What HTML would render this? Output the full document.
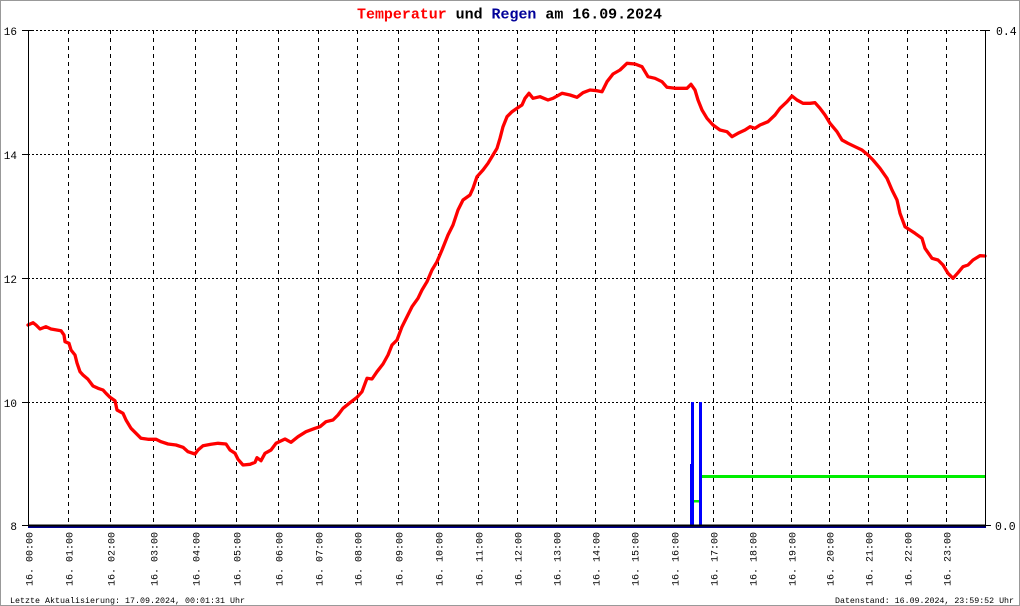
<!DOCTYPE html>
<html>
<head>
<meta charset="utf-8">
<style>
html,body{margin:0;padding:0;background:#fff;}
svg{display:block;}
</style>
</head>
<body>
<svg width="1020" height="606" viewBox="0 0 1020 606" xmlns="http://www.w3.org/2000/svg">
<rect x="0" y="0" width="1020" height="606" fill="#fff"/>
<rect x="0.5" y="0.5" width="1019" height="605" fill="none" stroke="#999" stroke-width="1"/>

<!-- Title -->
<text x="357" y="18.5" font-family="Liberation Mono, monospace" font-size="15" font-weight="bold" textLength="305" lengthAdjust="spacingAndGlyphs"><tspan fill="#ff0000">Temperatur</tspan><tspan fill="#000"> und </tspan><tspan fill="#000099">Regen</tspan><tspan fill="#000"> am 16.09.2024</tspan></text>

<!-- horizontal dotted grid -->
<g stroke="#000" stroke-width="1" stroke-dasharray="2 2">
<line x1="28" y1="30.5" x2="985" y2="30.5"/>
<line x1="28" y1="154.5" x2="985" y2="154.5"/>
<line x1="28" y1="278.5" x2="985" y2="278.5"/>
<line x1="28" y1="402.5" x2="985" y2="402.5"/>
</g>

<!-- vertical dashed grid -->
<g stroke="#000" stroke-width="1" stroke-dasharray="4 4">
<line x1="68.5" y1="30" x2="68.5" y2="525"/>
<line x1="110.5" y1="30" x2="110.5" y2="525"/>
<line x1="153.5" y1="30" x2="153.5" y2="525"/>
<line x1="195.5" y1="30" x2="195.5" y2="525"/>
<line x1="236.5" y1="30" x2="236.5" y2="525"/>
<line x1="278.5" y1="30" x2="278.5" y2="525"/>
<line x1="318.5" y1="30" x2="318.5" y2="525"/>
<line x1="357.5" y1="30" x2="357.5" y2="525"/>
<line x1="398.5" y1="30" x2="398.5" y2="525"/>
<line x1="438.5" y1="30" x2="438.5" y2="525"/>
<line x1="478.5" y1="30" x2="478.5" y2="525"/>
<line x1="517.5" y1="30" x2="517.5" y2="525"/>
<line x1="556.5" y1="30" x2="556.5" y2="525"/>
<line x1="595.5" y1="30" x2="595.5" y2="525"/>
<line x1="634.5" y1="30" x2="634.5" y2="525"/>
<line x1="674.5" y1="30" x2="674.5" y2="525"/>
<line x1="713.5" y1="30" x2="713.5" y2="525"/>
<line x1="752.5" y1="30" x2="752.5" y2="525"/>
<line x1="791.5" y1="30" x2="791.5" y2="525"/>
<line x1="829.5" y1="30" x2="829.5" y2="525"/>
<line x1="868.5" y1="30" x2="868.5" y2="525"/>
<line x1="907.5" y1="30" x2="907.5" y2="525"/>
<line x1="946.5" y1="30" x2="946.5" y2="525"/>
</g>

<!-- rain -->
<rect x="691" y="402" width="3" height="124" fill="#0000ff"/>
<rect x="690" y="464" width="1" height="62" fill="#0000ff"/>
<rect x="699" y="402" width="3" height="124" fill="#0000ff"/>
<rect x="694" y="500" width="5" height="2.5" fill="#00ee00"/>
<rect x="702" y="475" width="284" height="3" fill="#00ee00"/>

<!-- temperature -->
<polyline fill="none" stroke="#ff0000" stroke-width="3.3" stroke-linejoin="round" stroke-linecap="round" points="28,325 33,322.7 36,325 40,329 46,326.7 51,329 61,330.7 64,335 65,341.7 69,343.3 71,350 75,355 77,363 80,371.7 83,375 88,379.3 93,386 98,388.3 103,390 106,393.3 110,397.3 115,400.7 117,410 123,413.3 126,420 131,428.3 136,433.3 141,438.3 148,439.3 156,439.3 161,441.7 168,444 176,445 183,447.3 188,451.7 195,454 198,450 203,445.7 211,444.3 218,443.3 226,444 230,450 235,453.3 238,459.3 243,465 250,464.3 255,462.3 257,457.7 261,460.7 265,453.3 271,450 276,443.3 285,439 291,442.3 298,436.7 306,431.7 315,428.3 320,426.7 326,421.7 333,420 338,415 343,408.3 350,402.7 357,397.3 362,391.7 367,378.3 372,379 377,371.7 383,364 388,355 392,345 397,340 402,326.7 407,316.7 412,306.7 418,298.3 422,290 427,281.7 432,270 437,261.7 442,250 448,235 453,225 458,210 463,200 470,195 473,188.3 477,176.7 483,170 488,163.3 493,155 497,148.3 500,138.3 503,126.7 507,116.7 512,111.7 517,108.3 522,105 525,98.3 529,93.3 533,98.3 540,96.7 548,100 553,98.3 562,93.3 570,95 577,97.3 583,92.7 590,90 597,90.7 602,91.7 607,81.7 613,74 620,70 627,63.3 635,64 642,66.7 648,76.7 655,78.3 662,81.7 667,87.3 675,88.3 687,88.3 691,84.3 695,90 698,100 702,110 707,118.3 713,125 720,130 727,131.7 732,136.7 738,133.3 745,130 750,126.7 755,128.3 760,125 768,121.7 775,115 780,108.3 787,101.7 792,96 797,100 803,103.3 810,103.3 815,102.7 820,108.3 825,115 830,123.3 837,131.7 842,140 848,143.3 855,146.7 862,150 868,155 873,160 880,168.3 887,178.3 892,190 897,200 900,213.3 905,226.7 910,230 915,233.3 922,238.3 925,248.3 932,258.3 938,260 943,265 948,273.3 953,278.3 958,272.7 963,266.7 968,265 973,260 980,255.7 985,256"/>

<!-- axes -->
<line x1="28.5" y1="30" x2="28.5" y2="526" stroke="#000" stroke-width="1"/>
<line x1="985.5" y1="30" x2="985.5" y2="526" stroke="#000" stroke-width="1"/>
<rect x="28" y="524.5" width="958" height="2" fill="#000"/>
<rect x="28" y="526.5" width="958" height="1.5" fill="#000090"/>

<!-- ticks -->
<g stroke="#000" stroke-width="1">
<line x1="22" y1="30.5" x2="32" y2="30.5"/>
<line x1="22" y1="154.5" x2="28" y2="154.5"/>
<line x1="22" y1="278.5" x2="28" y2="278.5"/>
<line x1="22" y1="402.5" x2="28" y2="402.5"/>
<line x1="22" y1="525.5" x2="28" y2="525.5"/>
<line x1="982" y1="30.5" x2="990" y2="30.5"/>
<line x1="985" y1="525.5" x2="991" y2="525.5"/>
</g>

<!-- y labels -->
<g font-family="Liberation Mono, monospace" font-size="11" fill="#000" text-anchor="end">
<text x="17" y="35">16</text>
<text x="17" y="159">14</text>
<text x="17" y="283">12</text>
<text x="17" y="407">10</text>
<text x="17" y="530">8</text>
</g>
<g font-family="Liberation Mono, monospace" font-size="11.5" fill="#000">
<text x="996" y="35">0.4</text>
<text x="995" y="530">0.0</text>
</g>

<!-- x labels -->
<g font-family="Liberation Mono, monospace" font-size="10" fill="#000">
<text transform="translate(32.5,586) rotate(-90)" textLength="54" lengthAdjust="spacingAndGlyphs">16. 00:00</text>
<text transform="translate(72.5,586) rotate(-90)" textLength="54" lengthAdjust="spacingAndGlyphs">16. 01:00</text>
<text transform="translate(114.5,586) rotate(-90)" textLength="54" lengthAdjust="spacingAndGlyphs">16. 02:00</text>
<text transform="translate(157.5,586) rotate(-90)" textLength="54" lengthAdjust="spacingAndGlyphs">16. 03:00</text>
<text transform="translate(199.5,586) rotate(-90)" textLength="54" lengthAdjust="spacingAndGlyphs">16. 04:00</text>
<text transform="translate(240.5,586) rotate(-90)" textLength="54" lengthAdjust="spacingAndGlyphs">16. 05:00</text>
<text transform="translate(282.5,586) rotate(-90)" textLength="54" lengthAdjust="spacingAndGlyphs">16. 06:00</text>
<text transform="translate(322.5,586) rotate(-90)" textLength="54" lengthAdjust="spacingAndGlyphs">16. 07:00</text>
<text transform="translate(361.5,586) rotate(-90)" textLength="54" lengthAdjust="spacingAndGlyphs">16. 08:00</text>
<text transform="translate(402.5,586) rotate(-90)" textLength="54" lengthAdjust="spacingAndGlyphs">16. 09:00</text>
<text transform="translate(442.5,586) rotate(-90)" textLength="54" lengthAdjust="spacingAndGlyphs">16. 10:00</text>
<text transform="translate(482.5,586) rotate(-90)" textLength="54" lengthAdjust="spacingAndGlyphs">16. 11:00</text>
<text transform="translate(521.5,586) rotate(-90)" textLength="54" lengthAdjust="spacingAndGlyphs">16. 12:00</text>
<text transform="translate(560.5,586) rotate(-90)" textLength="54" lengthAdjust="spacingAndGlyphs">16. 13:00</text>
<text transform="translate(599.5,586) rotate(-90)" textLength="54" lengthAdjust="spacingAndGlyphs">16. 14:00</text>
<text transform="translate(638.5,586) rotate(-90)" textLength="54" lengthAdjust="spacingAndGlyphs">16. 15:00</text>
<text transform="translate(678.5,586) rotate(-90)" textLength="54" lengthAdjust="spacingAndGlyphs">16. 16:00</text>
<text transform="translate(717.5,586) rotate(-90)" textLength="54" lengthAdjust="spacingAndGlyphs">16. 17:00</text>
<text transform="translate(756.5,586) rotate(-90)" textLength="54" lengthAdjust="spacingAndGlyphs">16. 18:00</text>
<text transform="translate(795.5,586) rotate(-90)" textLength="54" lengthAdjust="spacingAndGlyphs">16. 19:00</text>
<text transform="translate(833.5,586) rotate(-90)" textLength="54" lengthAdjust="spacingAndGlyphs">16. 20:00</text>
<text transform="translate(872.5,586) rotate(-90)" textLength="54" lengthAdjust="spacingAndGlyphs">16. 21:00</text>
<text transform="translate(911.5,586) rotate(-90)" textLength="54" lengthAdjust="spacingAndGlyphs">16. 22:00</text>
<text transform="translate(950.5,586) rotate(-90)" textLength="54" lengthAdjust="spacingAndGlyphs">16. 23:00</text>
</g>

<!-- footer -->
<g font-family="Liberation Mono, monospace" font-size="8.4" fill="#000">
<text x="10" y="603" textLength="235" lengthAdjust="spacingAndGlyphs">Letzte Aktualisierung: 17.09.2024, 00:01:31 Uhr</text>
<text x="835" y="603" textLength="179" lengthAdjust="spacingAndGlyphs">Datenstand: 16.09.2024, 23:59:52 Uhr</text>
</g>
</svg>
</body>
</html>
